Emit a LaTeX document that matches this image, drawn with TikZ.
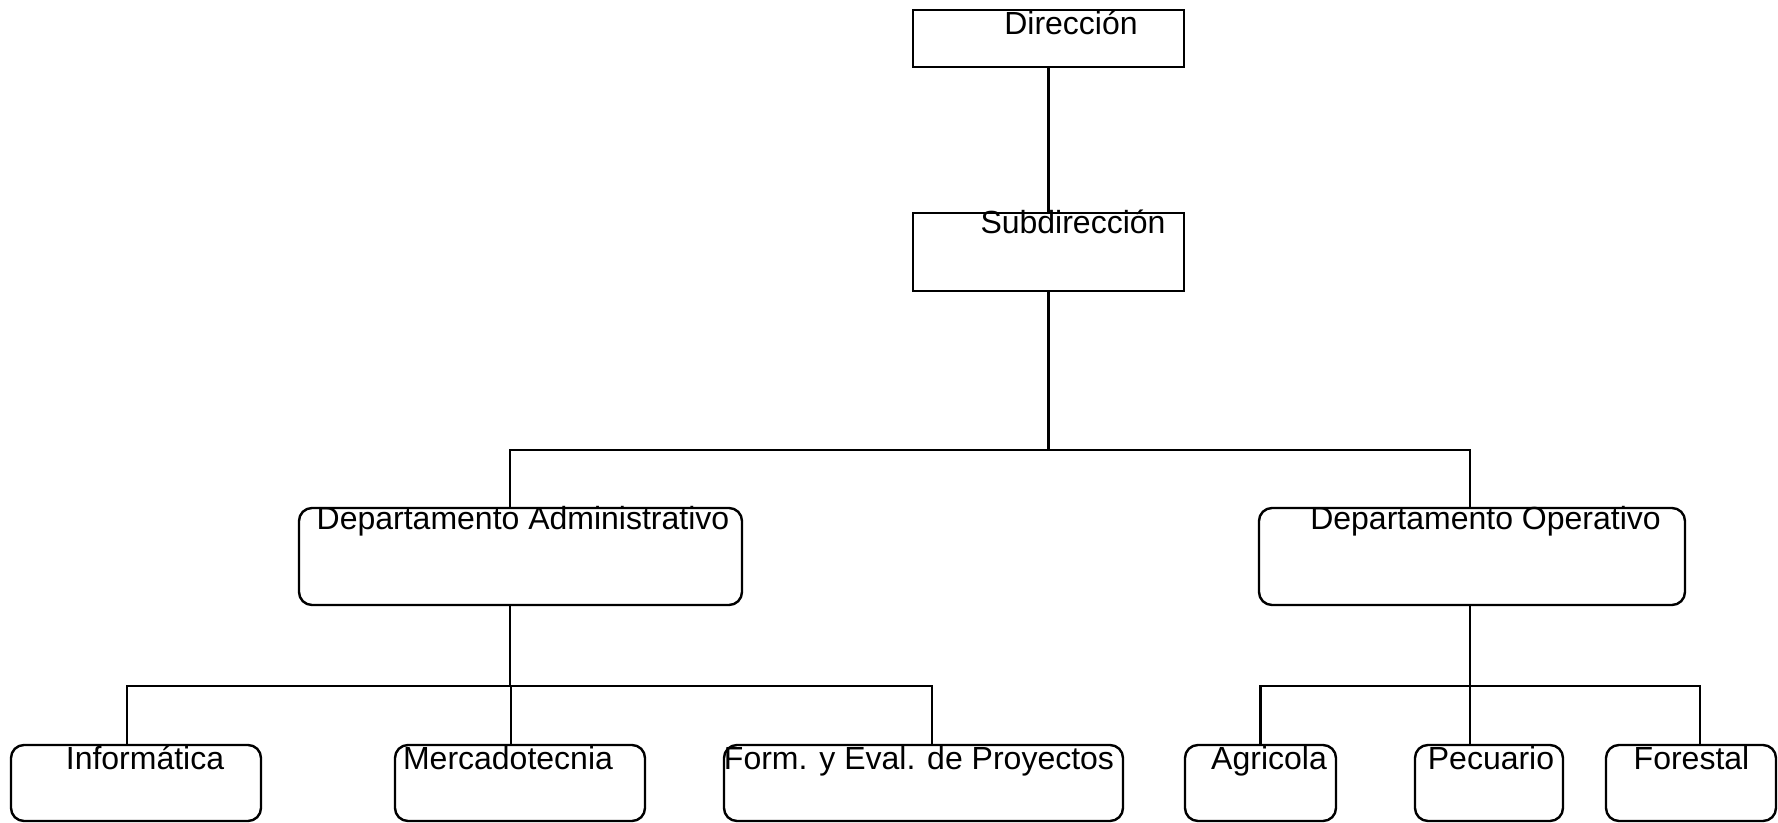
\documentclass[tikz,border=0pt]{standalone}
\usepackage{fontspec}
\setmainfont{Liberation Sans}
\tikzset{
        orgnode/.style = {inner sep=0pt, line width=1.2pt},
        org_s/.style = {orgnode, rectangle, draw=black, fill=white},
        org_r/.style = {orgnode, rectangle, draw=black, fill=white,
            rounded corners=6.5pt},
        org_t/.style = {inner sep=0pt, anchor=base,
            font=\fontsize{16}{19}\selectfont},
        org_e/.style = {line width=1.2pt}
    }
\begin{document}
\begin{tikzpicture}[x=0.5pt, y=-0.5pt]
    \useasboundingbox (0,0) rectangle (1778,823);
    % boxes
    \node[org_s, minimum width=135.5pt, minimum height=28.5pt] (dir) at (1048.5,38.5) {}; % ROOT
    \node[org_s, minimum width=135.5pt, minimum height=39pt] (sub) at (1048.5,252) {};
    \node[org_r, minimum width=221.5pt, minimum height=48.5pt] (adm) at (520.5,556.5) {};
    \node[org_r, minimum width=213pt, minimum height=48.5pt] (ope) at (1472,556.5) {};
    \node[org_r, minimum width=125pt, minimum height=38pt] (inf) at (136,783) {};
    \node[org_r, minimum width=125pt, minimum height=38pt] (mer) at (520,783) {};
    \node[org_r, minimum width=199.5pt, minimum height=38pt] (frm) at (923.5,783) {};
    \node[org_r, minimum width=75.5pt, minimum height=38pt] (agr) at (1260.5,783) {};
    \node[org_r, minimum width=74pt, minimum height=38pt] (pec) at (1489,783) {};
    \node[org_r, minimum width=85pt, minimum height=38pt] (for) at (1691,783) {};

    % texts
    \node[org_t] (dir_t) at (1071,35) {Dirección};
    \node[org_t] (sub_t) at (1073,234) {Subdirección};
    \node[org_t] (adm_t) at (523,530) {Departamento Administrativo};
    \node[org_t] (ope_t) at (1485.5,530) {Departamento Operativo};
    \node[org_t] (inf_t) at (145,769) {Informática};
    \node[org_t] (mer_t) at (508,769) {Mercadotecnia};
    \node[org_t] (frm_t) at (919,769) {Form. y Eval. de Proyectos};
    \node[org_t] (agr_t) at (1269,769) {Agricola};
    \node[org_t] (pec_t) at (1491,769) {Pecuario};
    \node[org_t] (for_t) at (1691.5,769) {Forestal};

    % lines
    \coordinate (bus_a) at (1048.5,450);
    \coordinate (bus_b) at (510,686);
    \coordinate (bus_c) at (1470,686);
    \draw[org_e] (dir.south) -- (sub.north);
    \draw[org_e] (sub.south) -- (bus_a);
    \draw[org_e] (bus_a) -| ([xshift=-5.25pt]adm.north);
    \draw[org_e] (bus_a) -| ([xshift=-1pt]ope.north);
    \draw[org_e] (bus_b |- adm.south) -- (bus_b);
    \draw[org_e] (bus_b) -| ([xshift=-4.5pt]inf.north);
    \draw[org_e] (bus_b) -| ([xshift=-4.5pt]mer.north);
    \draw[org_e] (bus_b) -| ([xshift=4.25pt]frm.north);
    \draw[org_e] (bus_c |- ope.south) -- (bus_c);
    \draw[org_e] (bus_c) -| (agr.north);
    \draw[org_e] (bus_c) -| ([xshift=-9.5pt]pec.north);
    \draw[org_e] (bus_c) -| ([xshift=4.5pt]for.north);
\end{tikzpicture}
\end{document}
